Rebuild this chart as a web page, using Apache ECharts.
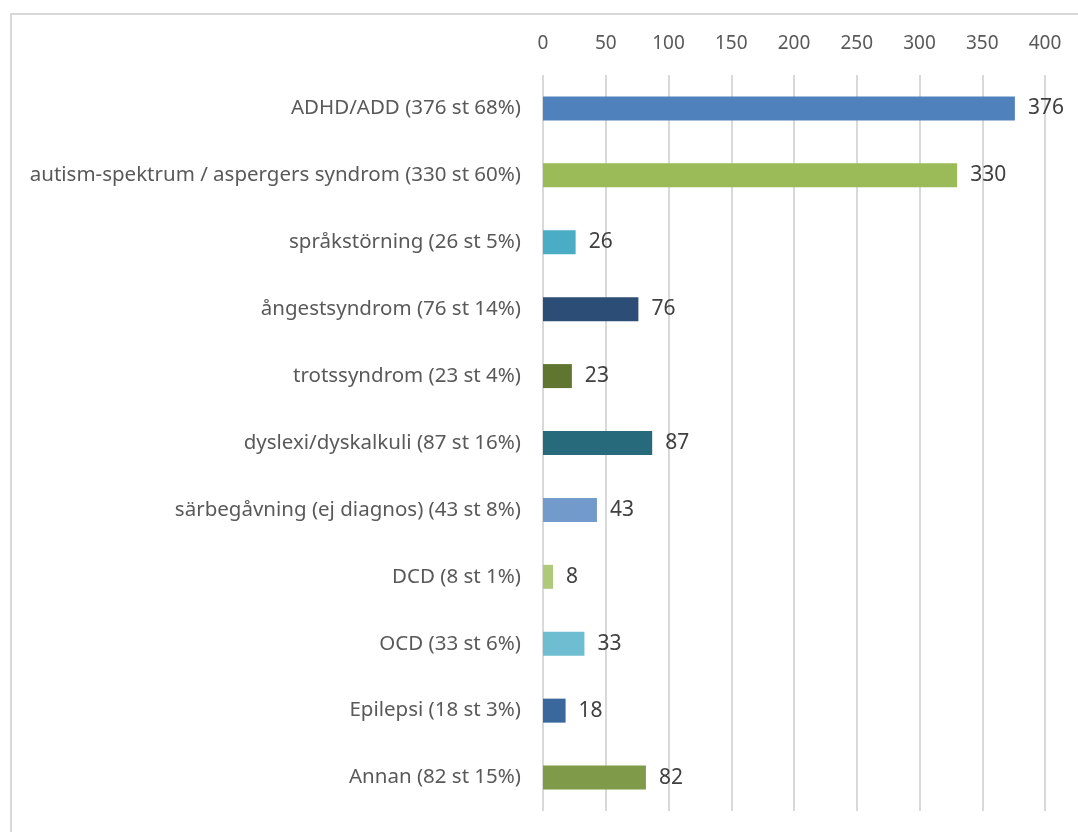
<!DOCTYPE html>
<html>
<head>
<meta charset="utf-8">
<script src="https://cdn.jsdelivr.net/npm/echarts@6/dist/echarts.min.js"></script>
<style>
  html, body { margin: 0; padding: 0; background: #fff; }
  #chart { width: 1078px; height: 832px; }
</style>
</head>
<body>
<div id="chart"></div>
<script>
const categories = [
  'ADHD/ADD (376 st 68%)',
  'autism-spektrum / aspergers syndrom (330 st 60%)',
  'språkstörning (26 st 5%)',
  'ångestsyndrom (76 st 14%)',
  'trotssyndrom (23 st 4%)',
  'dyslexi/dyskalkuli (87 st 16%)',
  'särbegåvning (ej diagnos) (43 st 8%)',
  'DCD (8 st 1%)',
  'OCD (33 st 6%)',
  'Epilepsi (18 st 3%)',
  'Annan (82 st 15%)'
]
const values = [376, 330, 26, 76, 23, 87, 43, 8, 33, 18, 82]
const barColors = ['#4F81BD', '#9BBB59', '#4BACC6', '#2C4D75', '#5F7530', '#276A7C',
  '#729ACA', '#AFC97A', '#6FBDD1', '#3A679C', '#7F9A48']

const font = '"Noto Sans", sans-serif'

const option = {
  animation: false,
  graphic: [{
    type: 'rect',
    shape: { x: 11, y: 14, width: 1100, height: 850 },
    style: { fill: 'none', stroke: '#d9d9d9', lineWidth: 2 }
  }],
  grid: { left: 543, right: 33, top: 75, bottom: 21 },
  xAxis: {
    type: 'value',
    position: 'top',
    min: 0,
    max: 400,
    interval: 50,
    axisLine: { show: false },
    axisTick: { show: false },
    axisLabel: { color: '#595959', fontSize: 19, fontFamily: font, margin: 22 },
    splitLine: { lineStyle: { color: '#d9d9d9', width: 2 } }
  },
  yAxis: {
    type: 'category',
    inverse: true,
    data: categories,
    axisLine: { show: false },
    axisTick: { show: false },
    axisLabel: { color: '#595959', fontSize: 20.5, fontFamily: font, margin: 22 }
  },
  series: [{
    type: 'bar',
    barWidth: 24,
    data: values.map((v, i) => ({ value: v, itemStyle: { color: barColors[i] } })),
    label: {
      show: true,
      position: 'right',
      distance: 13,
      color: '#404040',
      fontSize: 21,
      fontFamily: font
    }
  }]
}

const chart = echarts.init(document.getElementById('chart'))
chart.setOption(option)
</script>
</body>
</html>
